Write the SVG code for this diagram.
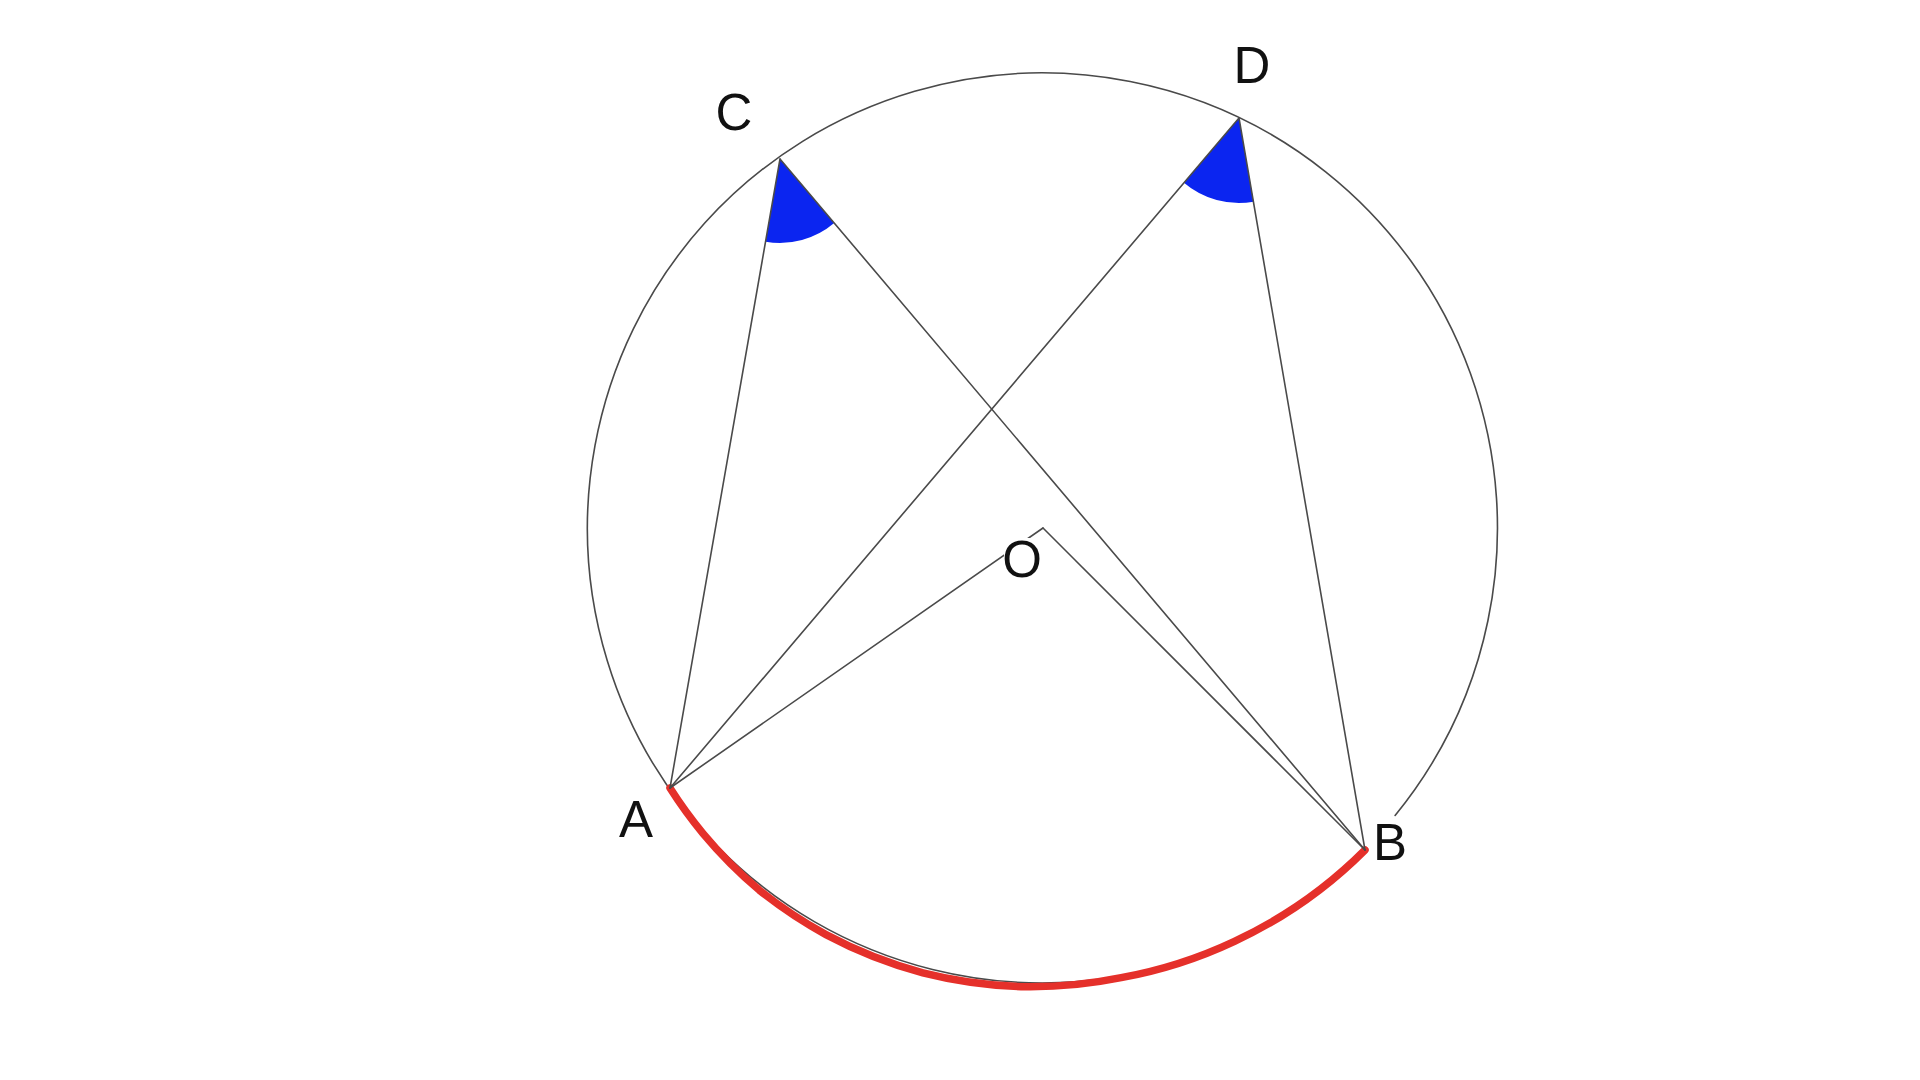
<svg xmlns="http://www.w3.org/2000/svg" width="1920" height="1080" viewBox="0 0 1920 1080">
<style>
.ln{fill:none;stroke:#4a4a4a;stroke-width:1.6;stroke-linecap:round}
.ang{fill:#0b25f0;stroke:none}
.lbl{font-family:"Liberation Sans",Arial,sans-serif;font-size:51px;fill:#111;text-anchor:middle}
</style>
<rect width="1920" height="1080" fill="#fff"/>
<g id="circle">
<path class="ln" d="M1364.5,849.4 A455,455 0 1 1 1395.1,815.5"/>
</g>
<g id="arc-AB">
<path d="M670,788 A456,456 0 0 0 703.1,833.6 A457,457 0 0 0 759.4,890.2 A459,459 0 0 0 826,934.6 A460,460 0 0 0 922.9,972.8 A459,459 0 0 0 1026,986.7 A457,457 0 0 0 1121.2,977.6 A456,456 0 0 0 1234.5,941.3 A455,455 0 0 0 1365,850" fill="none" stroke="#e5302a" stroke-width="7.5" stroke-linecap="round" stroke-linejoin="round"/>
</g>
<g id="angle-C"><path class="ang" d="M780,159 L765.6,241.8 A84,84 0 0 0 834.2,223.1 Z"/></g>
<g id="angle-D"><path class="ang" d="M1239,118 L1183.9,182.8 A85,85 0 0 0 1253.6,201.7 Z"/></g>
<g id="connectors">
<line class="ln" x1="780" y1="159" x2="670" y2="788"/>
<line class="ln" x1="780" y1="159" x2="1365" y2="850"/>
<line class="ln" x1="1239" y1="118" x2="670" y2="788"/>
<line class="ln" x1="1239" y1="118" x2="1365" y2="850"/>
<line class="ln" x1="670" y1="788" x2="1043" y2="528"/>
<line class="ln" x1="1043" y1="528" x2="1365" y2="850"/>
</g>
<g id="label-A"><text class="lbl" x="636" y="837">A</text></g>
<g id="label-B"><text class="lbl" x="1390" y="860">B</text></g>
<g id="label-C"><text class="lbl" x="734" y="130">C</text></g>
<g id="label-D"><text class="lbl" x="1252" y="83">D</text></g>
<g id="label-O"><rect x="1004" y="538" width="37" height="42" fill="#fff"/><text class="lbl" x="1022" y="577">O</text></g>
</svg>
